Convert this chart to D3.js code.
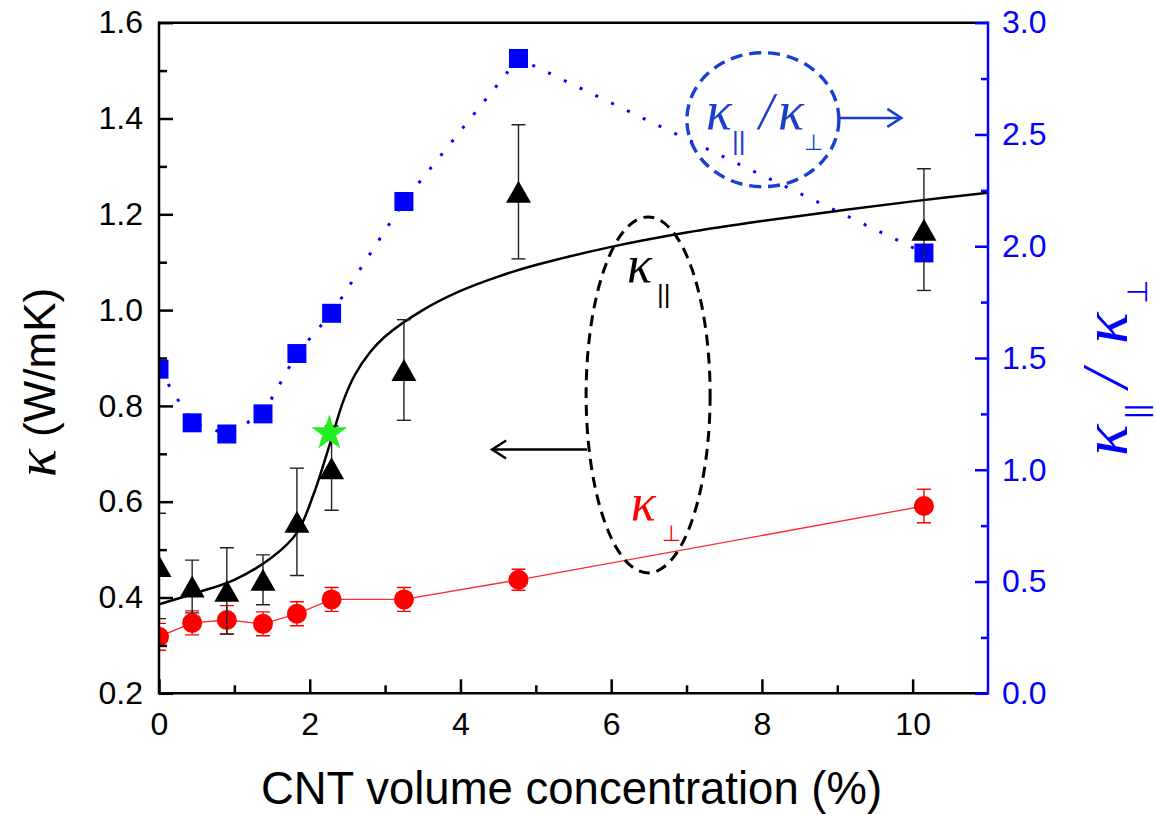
<!DOCTYPE html>
<html>
<head>
<meta charset="utf-8">
<script src="https://cdn.jsdelivr.net/npm/d3@7"></script>
<style>
  body { margin: 0; background: #fff; }
</style>
</head>
<body>
<div id="chart"></div>
<script>
// CNT volume concentration (%) of the samples
const conc = [0, 0.44, 0.9, 1.38, 1.83, 2.29, 3.25, 4.77, 10.15];
// in-plane conductivity (W/mK) and error
const kPar = [0.466, 0.423, 0.414, 0.437, 0.558, 0.670, 0.875, 1.247, 1.168];
const kParErr = [0.11, 0.055, 0.09, 0.052, 0.112, 0.088, 0.105, 0.14, 0.127];
// cross-plane conductivity (W/mK) and error
const kPerp = [0.318, 0.347, 0.353, 0.345, 0.366, 0.396, 0.396, 0.437, 0.591];
const kPerpErr = [0.028, 0.025, 0.03, 0.025, 0.025, 0.025, 0.025, 0.022, 0.035];
// anisotropy ratio (right axis)
const ratio = [1.45, 1.21, 1.16, 1.25, 1.52, 1.70, 2.20, 2.84, 1.97];
// fitted curve for k_par
const fitX = [0, 0.5, 1, 1.5, 1.83, 2.05, 2.27, 2.45, 2.6, 2.8, 3, 3.5, 4, 4.5, 5, 6, 7, 8, 9, 10, 11];
const fitY = [0.386, 0.41, 0.437, 0.484, 0.535, 0.615, 0.722, 0.812, 0.865, 0.912, 0.945, 1.0, 1.04, 1.07, 1.094, 1.132, 1.162, 1.186, 1.207, 1.227, 1.245];
// highlighted point
const starPt = [2.26, 0.743];

const xTicks = [0, 2, 4, 6, 8, 10];
const xMinor = [1, 3, 5, 7, 9];
const yLTicks = [0.2, 0.4, 0.6, 0.8, 1.0, 1.2, 1.4, 1.6];
const yLMinor = [0.3, 0.5, 0.7, 0.9, 1.1, 1.3, 1.5];
const yRTicks = [0, 0.5, 1.0, 1.5, 2.0, 2.5, 3.0];
const yRMinor = [0.25, 0.75, 1.25, 1.75, 2.25, 2.75];

const width = 1156, height = 814;
const margin = { top: 22.7, right: 168, bottom: 120.7, left: 159 };
const sans = '"Liberation Sans", Arial, sans-serif';
const serif = '"Liberation Serif", "Times New Roman", serif';
const blue = '#0000ff', annBlue = '#1a3fcf', red = '#ff0000';

const svg = d3.select('#chart').append('svg')
    .attr('width', width)
    .attr('height', height);

const x = d3.scaleLinear().domain([0, 11]).range([margin.left, width - margin.right]);
const yL = d3.scaleLinear().domain([0.2, 1.6]).range([height - margin.bottom, margin.top]);
const yR = d3.scaleLinear().domain([0, 3]).range([height - margin.bottom, margin.top]);

const defs = svg.append('defs');
defs.append('clipPath').attr('id', 'plot')
    .append('rect')
    .attr('x', x(0)).attr('y', yL(1.6))
    .attr('width', x(11) - x(0)).attr('height', yL(0.2) - yL(1.6));

// arrow heads
[['headBlack', '#000'], ['headBlue', annBlue]].forEach(([id, c]) => {
    defs.append('marker')
        .attr('id', id)
        .attr('markerUnits', 'userSpaceOnUse')
        .attr('viewBox', '-16 -12 20 24')
        .attr('markerWidth', 20).attr('markerHeight', 24)
        .attr('refX', 0).attr('refY', 0)
        .attr('orient', 'auto')
        .append('path')
        .attr('d', 'M-14,-9L0,0L-14,9')
        .attr('fill', 'none')
        .attr('stroke', c)
        .attr('stroke-width', 2.5);
});

const marks = svg.append('g').attr('clip-path', 'url(#plot)');

// ratio: dotted blue line + squares
marks.append('path')
    .datum(conc.map((c, i) => [c, ratio[i]]))
    .attr('fill', 'none')
    .attr('stroke', blue)
    .attr('stroke-width', 3)
    .attr('stroke-dasharray', '3,14.5')
    .attr('d', d3.line().x(d => x(d[0])).y(d => yR(d[1])));

marks.selectAll('.sq').data(conc).enter().append('path')
    .attr('class', 'sq')
    .attr('transform', (d, i) => `translate(${x(d)},${yR(ratio[i])})`)
    .attr('d', d3.symbol(d3.symbolSquare, 361))
    .attr('fill', blue);

// fitted curve
marks.append('path')
    .datum(fitX.map((c, i) => [c, fitY[i]]))
    .attr('fill', 'none')
    .attr('stroke', '#000')
    .attr('stroke-width', 2.5)
    .attr('d', d3.line().x(d => x(d[0])).y(d => yL(d[1])).curve(d3.curveCatmullRom.alpha(0.5)));

// k_perp line, error bars, circles
marks.append('path')
    .datum(conc.map((c, i) => [c, kPerp[i]]))
    .attr('fill', 'none')
    .attr('stroke', '#ff2a2a')
    .attr('stroke-width', 1.3)
    .attr('d', d3.line().x(d => x(d[0])).y(d => yL(d[1])));

function errorBars(g, vals, errs, color, w) {
    const eb = g.append('g').attr('stroke', color).attr('stroke-width', w).attr('fill', 'none');
    conc.forEach((c, i) => {
        const cx = x(c), top = yL(vals[i] + errs[i]), bot = yL(vals[i] - errs[i]);
        eb.append('line').attr('x1', cx).attr('x2', cx).attr('y1', top).attr('y2', bot);
        eb.append('line').attr('x1', cx - 7).attr('x2', cx + 7).attr('y1', top).attr('y2', top);
        eb.append('line').attr('x1', cx - 7).attr('x2', cx + 7).attr('y1', bot).attr('y2', bot);
    });
}

errorBars(marks, kPerp, kPerpErr, red, 1.4);
marks.selectAll('.dot').data(conc).enter().append('circle')
    .attr('class', 'dot')
    .attr('cx', d => x(d))
    .attr('cy', (d, i) => yL(kPerp[i]))
    .attr('r', 10)
    .attr('fill', red);

// k_par error bars and triangles
errorBars(marks, kPar, kParErr, '#222', 1.4);
marks.selectAll('.tri').data(conc).enter().append('path')
    .attr('class', 'tri')
    .attr('transform', (d, i) => `translate(${x(d)},${yL(kPar[i])})`)
    .attr('d', 'M0,-11L12.5,11L-12.5,11Z')
    .attr('fill', '#000');

// green star
svg.append('path')
    .attr('transform', `translate(${x(starPt[0])},${yL(starPt[1])})`)
    .attr('d', d3.symbol(d3.symbolStar, 400))
    .attr('fill', '#22ee22');

// axes
function styleAxis(g, color, size) {
    g.select('.domain').remove();
    g.selectAll('.tick line').attr('stroke', color).attr('stroke-width', 2.5);
    g.selectAll('.tick text').attr('fill', color).attr('font-size', size).attr('font-family', sans);
}

const xAxisG = svg.append('g').attr('transform', `translate(0,${yL(0.2)})`);
xAxisG.append('g').call(d3.axisBottom(x).tickValues(xMinor).tickSize(-8).tickFormat(''))
    .call(g => styleAxis(g, '#000', 32));
xAxisG.append('g').call(d3.axisBottom(x).tickValues(xTicks).tickSize(-14).tickPadding(19).tickFormat(d3.format('d')))
    .call(g => styleAxis(g, '#000', 32));

const yLAxisG = svg.append('g').attr('transform', `translate(${x(0)},0)`);
yLAxisG.append('g').call(d3.axisLeft(yL).tickValues(yLMinor).tickSize(-8).tickFormat(''))
    .call(g => styleAxis(g, '#000', 32));
yLAxisG.append('g').call(d3.axisLeft(yL).tickValues(yLTicks).tickSize(-14).tickPadding(16).tickFormat(d3.format('.1f')))
    .call(g => styleAxis(g, '#000', 32));

// frame
const frame = svg.append('g').attr('stroke-width', 2.5).attr('fill', 'none');
frame.append('line').attr('x1', x(0)).attr('x2', x(11)).attr('y1', yL(1.6)).attr('y2', yL(1.6)).attr('stroke', '#000');
frame.append('line').attr('x1', x(0)).attr('x2', x(11)).attr('y1', yL(0.2)).attr('y2', yL(0.2)).attr('stroke', '#000');
frame.append('line').attr('x1', x(0)).attr('x2', x(0)).attr('y1', yL(1.6) - 1.25).attr('y2', yL(0.2) + 1.25).attr('stroke', '#000');

const yRAxisG = svg.append('g').attr('transform', `translate(${x(11)},0)`);
yRAxisG.append('g').call(d3.axisRight(yR).tickValues(yRMinor).tickSize(-7).tickFormat(''))
    .call(g => styleAxis(g, blue, 32));
yRAxisG.append('g').call(d3.axisRight(yR).tickValues(yRTicks).tickSize(-13).tickPadding(14).tickFormat(d3.format('.1f')))
    .call(g => styleAxis(g, blue, 32));
frame.append('line').attr('x1', x(11)).attr('x2', x(11)).attr('y1', yR(3) - 1.25).attr('y2', yR(0) + 1.25).attr('stroke', blue);

// axis titles
svg.append('text')
    .attr('x', (x(0) + x(11)) / 2 - 2)
    .attr('y', 804)
    .attr('text-anchor', 'middle')
    .attr('font-family', sans)
    .attr('font-size', 45.5)
    .text('CNT volume concentration (%)');

const leftTitle = svg.append('text')
    .attr('transform', 'translate(55,477) rotate(-90)')
    .attr('font-family', sans)
    .attr('font-size', 44);
leftTitle.append('tspan').attr('font-family', serif).attr('font-style', 'italic').attr('font-size', 58).text('κ');
leftTitle.append('tspan').text(' (W/mK)');

// kappa with subscript helper; positions in local pixel offsets
function kappa(g, px, py, size, sub, subDx, subDy, subSize, color) {
    g.append('text').attr('x', px).attr('y', py)
        .attr('font-family', serif).attr('font-style', 'italic')
        .attr('font-size', size).attr('fill', color).text('κ');
    g.append('text').attr('x', px + subDx).attr('y', py + subDy)
        .attr('font-family', sub === '||' ? sans : '"DejaVu Sans", sans-serif')
        .attr('font-size', subSize).attr('fill', color).text(sub);
}

const rightTitle = svg.append('g').attr('transform', 'translate(1127,364) rotate(-90)');
kappa(rightTitle, -92, 0, 66, '||', 37, 20, 30, blue);
rightTitle.append('text').attr('x', -24).attr('y', 0)
    .attr('font-family', serif).attr('font-style', 'italic').attr('font-size', 66)
    .attr('fill', blue).text('/');
kappa(rightTitle, 20, 0, 66, '⊥', 40, 20, 28, blue);

// annotations
const ann = svg.append('g');

// blue ratio annotation
const bc = [x(8.013), yR(2.566)];
ann.append('ellipse')
    .attr('cx', bc[0]).attr('cy', bc[1]).attr('rx', 76).attr('ry', 67)
    .attr('fill', 'none').attr('stroke', annBlue).attr('stroke-width', 3.4)
    .attr('stroke-dasharray', '12,7');
kappa(ann, bc[0] - 57, bc[1] + 9, 54, '||', 26, 21, 26, annBlue);
ann.append('text').attr('x', bc[0] - 4).attr('y', bc[1] + 9)
    .attr('font-family', serif).attr('font-style', 'italic').attr('font-size', 52)
    .attr('fill', annBlue).text('/');
kappa(ann, bc[0] + 15, bc[1] + 9, 54, '⊥', 26, 21, 22, annBlue);
ann.append('line')
    .attr('x1', x(9.02)).attr('x2', x(9.85)).attr('y1', yR(2.574)).attr('y2', yR(2.574))
    .attr('stroke', annBlue).attr('stroke-width', 2.5)
    .attr('marker-end', 'url(#headBlue)');

// black ellipse + arrow to left axis
ann.append('ellipse')
    .attr('cx', x(6.49)).attr('cy', yL(0.823)).attr('rx', 62).attr('ry', 178)
    .attr('fill', 'none').attr('stroke', '#000').attr('stroke-width', 3)
    .attr('stroke-dasharray', '11,7');
ann.append('line')
    .attr('x1', x(5.68)).attr('x2', x(4.42)).attr('y1', yL(0.709)).attr('y2', yL(0.709))
    .attr('stroke', '#000').attr('stroke-width', 2.5)
    .attr('marker-end', 'url(#headBlack)');

kappa(ann, x(6.21), yL(1.059), 52, '||', 30, 21, 26, '#000');
kappa(ann, x(6.26), yL(0.562), 52, '⊥', 31, 21, 22, red);
</script>
</body>
</html>
